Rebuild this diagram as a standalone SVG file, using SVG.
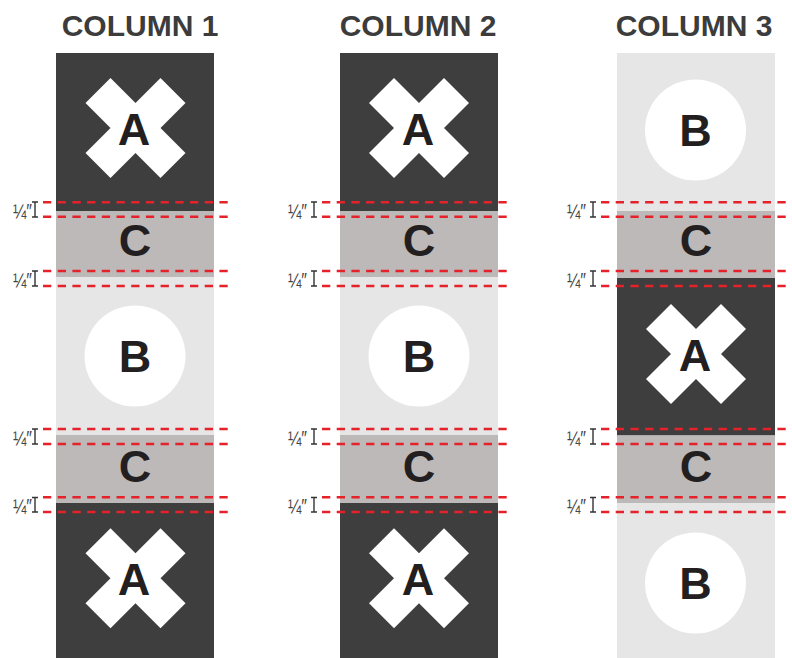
<svg xmlns="http://www.w3.org/2000/svg" xmlns:xlink="http://www.w3.org/1999/xlink" width="792" height="658" viewBox="0 0 792 658">
<style>
.title{font-family:"Liberation Sans",Arial,sans-serif;font-weight:bold;font-size:30px;fill:#3c3c3c;text-anchor:middle}
.dark{fill:#3e3e3e}
.light{fill:#e6e6e6}
.band{fill:#bdb9b8}
.let{font-family:"Liberation Sans",Arial,sans-serif;font-weight:bold;font-size:45px;fill:#231f20;text-anchor:middle}
.dash{stroke:#e5222a;stroke-width:2.6;stroke-dasharray:8.3 6.4;fill:none}
.q{font-family:"Liberation Sans",Arial,sans-serif;font-size:21px;fill:#444;text-anchor:end}
.ibeam{stroke:#333;stroke-width:1.4;fill:none}
.circ{fill:#fff}
</style>
<defs>
<polygon id="xmark" fill="#fff" points="0,-25 25,-50 50,-25 25,0 50,25 25,50 0,25 -25,50 -50,25 -25,0 -50,-25 -25,-50"/>
</defs>
<rect width="792" height="658" fill="#fff"/>

<g id="titles">
<text class="title" x="140" y="36">COLUMN 1</text>
<text class="title" x="418" y="36">COLUMN 2</text>
<text class="title" x="694" y="36">COLUMN 3</text>
</g>

<g id="column1">
<g id="c1-a-top"><rect class="dark" x="56" y="53" width="158" height="158"/><use xlink:href="#xmark" x="135.5" y="128"/><text class="let" x="134" y="145">A</text></g>
<g id="c1-c-top"><rect class="band" x="56" y="211" width="158" height="66"/><text class="let" x="135" y="256">C</text></g>
<g id="c1-b"><rect class="light" x="56" y="277" width="158" height="158"/><circle class="circ" cx="135" cy="356" r="50.5"/><text class="let" x="135" y="372">B</text></g>
<g id="c1-c-bot"><rect class="band" x="56" y="435" width="158" height="68"/><text class="let" x="135" y="482">C</text></g>
<g id="c1-a-bot"><rect class="dark" x="56" y="503" width="158" height="155"/><use xlink:href="#xmark" x="135.5" y="578.3"/><text class="let" x="134" y="595">A</text></g>
</g>

<g id="column2">
<g id="c2-a-top"><rect class="dark" x="340" y="53" width="158" height="158"/><use xlink:href="#xmark" x="419" y="128"/><text class="let" x="418" y="145">A</text></g>
<g id="c2-c-top"><rect class="band" x="340" y="211" width="158" height="66"/><text class="let" x="419" y="256">C</text></g>
<g id="c2-b"><rect class="light" x="340" y="277" width="158" height="158"/><circle class="circ" cx="419" cy="356" r="50.5"/><text class="let" x="419" y="372">B</text></g>
<g id="c2-c-bot"><rect class="band" x="340" y="435" width="158" height="68"/><text class="let" x="419" y="482">C</text></g>
<g id="c2-a-bot"><rect class="dark" x="340" y="503" width="158" height="155"/><use xlink:href="#xmark" x="419" y="578.3"/><text class="let" x="418" y="595">A</text></g>
</g>

<g id="column3">
<g id="c3-b-top"><rect class="light" x="617" y="53" width="158" height="158"/><circle class="circ" cx="695.5" cy="130" r="50.5"/><text class="let" x="695.5" y="146">B</text></g>
<g id="c3-c-top"><rect class="band" x="617" y="211" width="158" height="67"/><text class="let" x="696" y="256">C</text></g>
<g id="c3-a"><rect class="dark" x="617" y="278" width="158" height="157.5"/><use xlink:href="#xmark" x="696" y="354"/><text class="let" x="695" y="371">A</text></g>
<g id="c3-c-bot"><rect class="band" x="617" y="435.5" width="158" height="67.5"/><text class="let" x="696" y="482">C</text></g>
<g id="c3-b-bot"><rect class="light" x="617" y="503" width="158" height="155"/><circle class="circ" cx="695.5" cy="583" r="50.5"/><text class="let" x="695.5" y="599">B</text></g>
</g>

<g id="connectors">
<g id="dashes1" class="dash">
<line x1="43" y1="202.3" x2="228" y2="202.3"/><line x1="43" y1="216.7" x2="228" y2="216.7"/>
<line x1="43" y1="271" x2="228" y2="271"/><line x1="43" y1="286" x2="228" y2="286"/>
<line x1="43" y1="429" x2="228" y2="429"/><line x1="43" y1="444" x2="228" y2="444"/>
<line x1="43" y1="497.3" x2="228" y2="497.3"/><line x1="43" y1="512" x2="228" y2="512"/>
</g>
<g id="dashes2" class="dash">
<line x1="322" y1="202.3" x2="508" y2="202.3"/><line x1="322" y1="216.7" x2="508" y2="216.7"/>
<line x1="322" y1="271" x2="508" y2="271"/><line x1="322" y1="286" x2="508" y2="286"/>
<line x1="322" y1="429" x2="508" y2="429"/><line x1="322" y1="444" x2="508" y2="444"/>
<line x1="322" y1="497.3" x2="508" y2="497.3"/><line x1="322" y1="512" x2="508" y2="512"/>
</g>
<g id="dashes3" class="dash">
<line x1="601" y1="202.3" x2="792" y2="202.3"/><line x1="601" y1="216.7" x2="792" y2="216.7"/>
<line x1="601" y1="271" x2="792" y2="271"/><line x1="601" y1="286" x2="792" y2="286"/>
<line x1="601" y1="429" x2="792" y2="429"/><line x1="601" y1="444" x2="792" y2="444"/>
<line x1="601" y1="497.3" x2="792" y2="497.3"/><line x1="601" y1="512" x2="792" y2="512"/>
</g>
<g id="ibeams" class="ibeam">
<path d="M32 202H38M35 202V217M32 217H38 M32 271H38M35 271V286M32 286H38 M32 429H38M35 429V444M32 444H38 M32 497.5H38M35 497.5V512M32 512H38"/>
<path d="M311 202H317M314 202V217M311 217H317 M311 271H317M314 271V286M311 286H317 M311 429H317M314 429V444M311 444H317 M311 497.5H317M314 497.5V512M311 512H317"/>
<path d="M590 202H596M593 202V217M590 217H596 M590 271H596M593 271V286M590 286H596 M590 429H596M593 429V444M590 444H596 M590 497.5H596M593 497.5V512M590 512H596"/>
</g>
</g>

<g id="labels">
<text class="q" x="32" y="218" textLength="19" lengthAdjust="spacingAndGlyphs">¼″</text>
<text class="q" x="32" y="287" textLength="19" lengthAdjust="spacingAndGlyphs">¼″</text>
<text class="q" x="32" y="445" textLength="19" lengthAdjust="spacingAndGlyphs">¼″</text>
<text class="q" x="32" y="513" textLength="19" lengthAdjust="spacingAndGlyphs">¼″</text>
<text class="q" x="307" y="218" textLength="19" lengthAdjust="spacingAndGlyphs">¼″</text>
<text class="q" x="307" y="287" textLength="19" lengthAdjust="spacingAndGlyphs">¼″</text>
<text class="q" x="307" y="445" textLength="19" lengthAdjust="spacingAndGlyphs">¼″</text>
<text class="q" x="307" y="513" textLength="19" lengthAdjust="spacingAndGlyphs">¼″</text>
<text class="q" x="586" y="218" textLength="19" lengthAdjust="spacingAndGlyphs">¼″</text>
<text class="q" x="586" y="287" textLength="19" lengthAdjust="spacingAndGlyphs">¼″</text>
<text class="q" x="586" y="445" textLength="19" lengthAdjust="spacingAndGlyphs">¼″</text>
<text class="q" x="586" y="513" textLength="19" lengthAdjust="spacingAndGlyphs">¼″</text>
</g>
</svg>
